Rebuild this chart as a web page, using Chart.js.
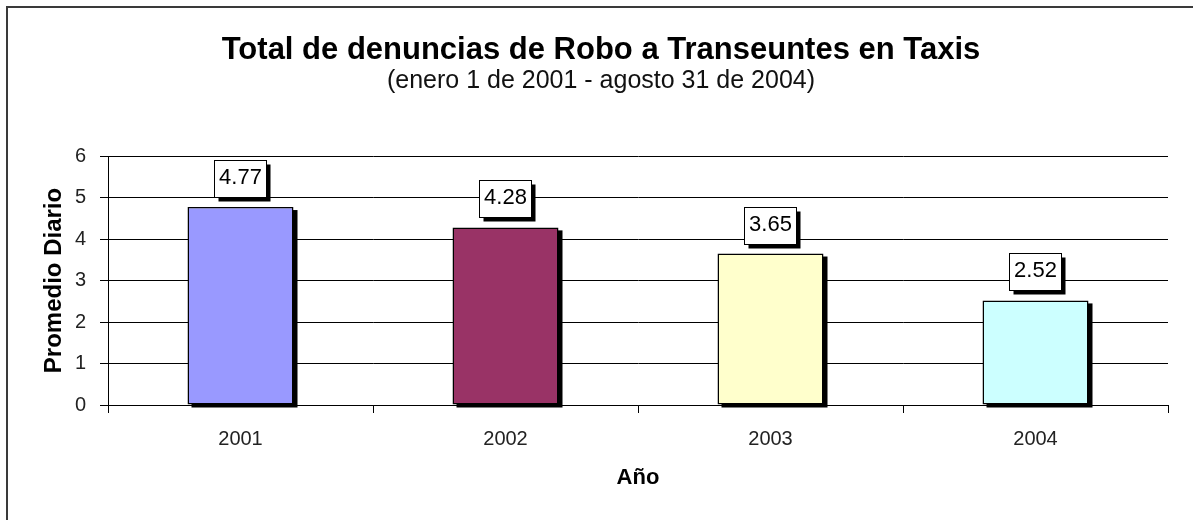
<!DOCTYPE html>
<html><head><meta charset="utf-8">
<script src="https://cdn.jsdelivr.net/npm/chart.js@4.4.1/dist/chart.umd.min.js"></script>
<style>html,body{margin:0;padding:0;background:#fff;} #wrap{position:relative;width:1193px;height:520px;}</style>
</head><body><div id="wrap"><canvas id="c"></canvas></div>
<script>
const categories = ['2001', '2002', '2003', '2004'];
const promedioDiario = [4.77, 4.28, 3.65, 2.52];
const barColors = ['#9999FF', '#993366', '#FFFFCC', '#CCFFFF'];
const yMin = 0, yMax = 6, yStep = 1;
const titleText = 'Total de denuncias de Robo a Transeuntes en Taxis';
const subtitleText = '(enero 1 de 2001 - agosto 31 de 2004)';
const xTitleText = 'Año';
const yTitleText = 'Promedio Diario';

const FONT = "'Liberation Sans', Arial, sans-serif";

const framePlugin = {
  id: 'frame',
  beforeDraw(chart) {
    const ctx = chart.ctx;
    ctx.save();
    ctx.fillStyle = '#fff';
    ctx.fillRect(0, 0, chart.width, chart.height);
    ctx.strokeStyle = '#3a3a3a';
    ctx.lineWidth = 2;
    ctx.strokeRect(7, 7, chart.width + 20, chart.height + 20);
    ctx.restore();
  }
};

const shadowPlugin = {
  id: 'barShadow',
  beforeDatasetsDraw(chart) {
    const ctx = chart.ctx;
    const meta = chart.getDatasetMeta(0);
    ctx.save();
    ctx.fillStyle = '#000';
    meta.data.forEach(el => {
      const p = el.getProps(['x', 'y', 'base', 'width'], true);
      ctx.fillRect(p.x - p.width / 2 + 4, p.y + 3, p.width, p.base - p.y);
    });
    ctx.restore();
  }
};

const labelPlugin = {
  id: 'valueBoxes',
  afterDatasetsDraw(chart) {
    const ctx = chart.ctx;
    const meta = chart.getDatasetMeta(0);
    const ds = chart.data.datasets[0];
    ctx.save();
    ctx.font = '22px ' + FONT;
    meta.data.forEach((el, i) => {
      const p = el.getProps(['x', 'y'], true);
      const txt = ds.data[i].toFixed(2);
      const tw = ctx.measureText(txt).width;
      const w = Math.round(tw + 9), h = 37;
      const bx = Math.round(p.x - w / 2 - 1) + 0.5;
      const by = Math.round(p.y - 10 - h) + 0.5;
      ctx.fillStyle = '#000';
      ctx.fillRect(bx + 4, by + 4, w, h);
      ctx.fillStyle = '#fff';
      ctx.fillRect(bx, by, w, h);
      ctx.strokeStyle = '#000';
      ctx.lineWidth = 1;
      ctx.strokeRect(bx, by, w, h);
      ctx.fillStyle = '#000';
      ctx.textAlign = 'center';
      ctx.textBaseline = 'middle';
      ctx.fillText(txt, bx + w / 2, by + h / 2 - 1);
    });
    ctx.restore();
  }
};

new Chart(document.getElementById('c'), {
  type: 'bar',
  data: {
    labels: categories,
    datasets: [{
      data: promedioDiario,
      backgroundColor: barColors,
      borderColor: '#000',
      borderWidth: 1.5,
      borderSkipped: false,
      barPercentage: 0.4,
      categoryPercentage: 1.0
    }]
  },
  options: {
    responsive: true,
    maintainAspectRatio: false,
    animation: false,
    devicePixelRatio: 1,
    layout: { padding: { left: 34, right: 25, top: 0, bottom: 0 } },
    plugins: {
      legend: { display: false },
      tooltip: { enabled: false },
      title: {
        display: true, text: titleText, color: '#000',
        font: { family: FONT, size: 31, weight: 'bold', lineHeight: 1.1 },
        padding: { top: 33, bottom: 0 }
      },
      subtitle: {
        display: true, text: subtitleText, color: '#111',
        font: { family: FONT, size: 25, weight: 'normal', lineHeight: 1.1 },
        padding: { top: 0, bottom: 61.4 }
      }
    },
    scales: {
      x: {
        offset: true,
        afterFit: s => { s.height = 115; },
        grid: { display: true, drawOnChartArea: false, drawTicks: true, tickLength: 8, color: '#000', lineWidth: 1, offset: true },
        border: { display: true, color: '#000', width: 1 },
        ticks: { color: '#222', font: { family: FONT, size: 20 }, padding: 14 },
        title: { display: true, text: xTitleText, color: '#000', font: { family: FONT, size: 22, weight: 'bold' }, padding: { top: 0, bottom: 28.8 } }
      },
      y: {
        min: yMin, max: yMax,
        afterFit: s => { s.width = 74; },
        grid: { display: true, drawTicks: true, tickLength: 8, color: '#000', lineWidth: 1 },
        border: { display: true, color: '#000', width: 1 },
        ticks: { stepSize: yStep, color: '#222', font: { family: FONT, size: 20 }, padding: 14 },
        title: { display: true, text: yTitleText, color: '#000', font: { family: FONT, size: 24, weight: 'bold' }, padding: { top: 6, bottom: 0 } }
      }
    }
  },
  plugins: [framePlugin, shadowPlugin, labelPlugin]
});
</script>
</body></html>
